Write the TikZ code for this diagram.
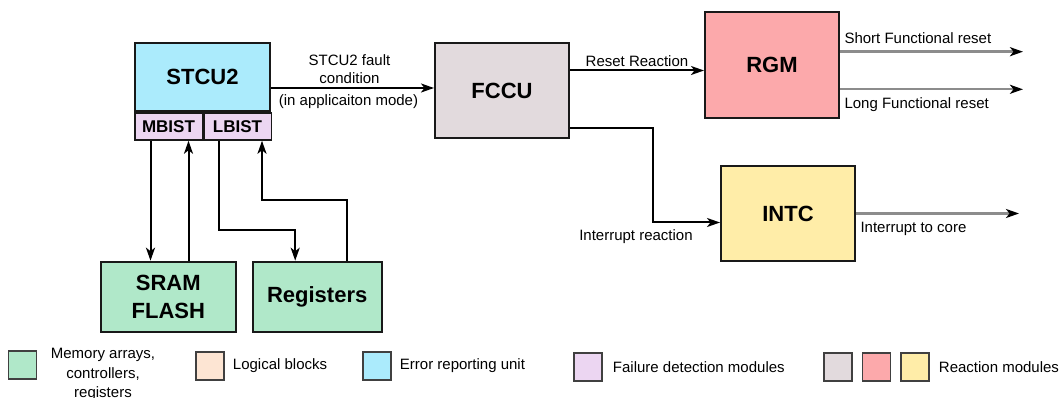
\documentclass[tikz,border=0pt]{standalone}
\usepackage{fontspec}
\setmainfont{Liberation Sans}
\usetikzlibrary{arrows.meta,positioning}

\definecolor{stcublue}{RGB}{171,235,252}
\definecolor{bistpink}{RGB}{236,214,242}
\definecolor{memgreen}{RGB}{176,232,201}
\definecolor{logicpeach}{RGB}{253,229,211}
\definecolor{fccugray}{RGB}{226,218,221}
\definecolor{rgmred}{RGB}{252,169,171}
\definecolor{intcyellow}{RGB}{255,237,168}

\begin{document}
\begin{tikzpicture}[x=1pt,y=-1pt,
		blk/.style={draw=black!90,line width=2pt,minimum width=134pt,minimum height=95pt,inner sep=0pt,align=center,font=\fontsize{22}{28}\selectfont\bfseries},
		sub/.style={draw=black!90,line width=1.5pt,fill=bistpink,minimum width=67.5pt,minimum height=27pt,inner sep=0pt,font=\fontsize{17}{20}\selectfont\bfseries},
		arr/.style={-{Stealth[length=13pt,width=9pt,inset=3.5pt]},line width=2pt},
		outarr/.style={-{Stealth[length=13pt,width=9pt,inset=3.5pt,black]},line width=2.4pt,draw=black!45},
		lbl/.style={font=\fontsize{15}{18}\selectfont},
		key/.style={draw=black!75,line width=1.5pt,minimum size=28pt,inner sep=0pt},
		keytxt/.style={font=\fontsize{15}{19.5}\selectfont,inner sep=0pt}]
		\useasboundingbox (0,0) rectangle (1063,398);

		\node[blk,fill=stcublue,minimum width=135pt,minimum height=68.5pt] (stcu) at (202.5,77) {STCU2};
		\node[sub,anchor=north west] (mbist) at (stcu.south west) {MBIST};
		\node[sub,anchor=north west] (lbist) at (mbist.north east) {LBIST};
		\node[blk,fill=fccugray,minimum height=95.6pt] (fccu) at (502,90.5) {FCCU};
		\node[blk,fill=rgmred,minimum height=106pt] (rgm) at (772,65.3) {RGM};
		\node[blk,fill=intcyellow] (intc) at (788,213.5) {INTC};
		\node[blk,fill=memgreen,minimum width=135pt,minimum height=70.6pt] (sram) at (168.3,297) {SRAM\\FLASH};
		\node[blk,fill=memgreen,minimum width=129pt,minimum height=70.6pt] (regs) at (317.2,297) {Registers};

		% fault and reaction paths
		\coordinate (flt) at ([yshift=2.5pt]fccu.west);
		\draw[arr] (stcu.east |- flt) -- (flt)
			node[midway,above,lbl,align=center,xshift=-3pt] {STCU2 fault\\condition}
			node[midway,below,lbl,xshift=-4pt,yshift=-2pt] {(in applicaiton mode)};
		\draw[arr] ([yshift=20pt]fccu.east) coordinate (rr) -- (rr -| rgm.west)
			node[midway,above,lbl] {Reset Reaction};
		\draw[arr] ([yshift=11pt]fccu.south east) -- ++(83,0) |- ([yshift=-9pt]intc.west)
			node[pos=0.5,below,lbl,xshift=-17pt,yshift=-3pt] {Interrupt reaction};

		\draw[outarr] ([yshift=13.6pt]rgm.east) -- ++(183,0)
			node[pos=0,above right,lbl,yshift=4pt] {Short Functional reset};
		\draw[outarr] ([yshift=-24pt]rgm.east) -- ++(183,0)
			node[pos=0,below right,lbl,yshift=-4pt] {Long Functional reset};
		\draw[outarr] (intc.east) -- ++(163,0)
			node[pos=0,below right,lbl,yshift=-4pt] {Interrupt to core};

		% BIST lanes down to the memories and registers
		\coordinate (m1) at ([xshift=-18pt]mbist.south);
		\coordinate (m2) at ([xshift=20pt]mbist.south);
		\coordinate (l1) at ([xshift=-18.5pt]lbist.south);
		\coordinate (l2) at ([xshift=24.5pt]lbist.south);
		\coordinate (r1) at ([xshift=-22pt]regs.north);
		\coordinate (r2) at ([xshift=30pt]regs.north);
		\draw[arr] (m1) -- (m1 |- sram.north);
		\draw[arr] (m2 |- sram.north) -- (m2);
		\draw[arr] (l1) -- ++(0,89) -| (r1);
		\draw[arr] (r2) -- ++(0,-61) -| (l2);

		% key
		\node[key,fill=memgreen] (k1) at (22.5,365) {};
		\node[keytxt,align=center,anchor=north] (t1) at (103,348) {Memory arrays,\\controllers,\\registers};
		\node[key,fill=logicpeach] (k2) at (210,366) {};
		\node[keytxt,right=8pt of k2] (t2) {Logical blocks};
		\node[key,fill=stcublue] (k3) at (377,366) {};
		\node[keytxt,right=8pt of k3] (t3) {Error reporting unit};
		\node[key,fill=bistpink] (k4) at (588,367) {};
		\node[keytxt,right=10pt of k4] (t4) {Failure detection modules};
		\node[key,fill=fccugray] (k5) at (838,367) {};
		\node[key,fill=rgmred,right=9pt of k5] (k6) {};
		\node[key,fill=intcyellow,right=9pt of k6] (k7) {};
		\node[keytxt,right=9pt of k7] (t5) {Reaction modules};
\end{tikzpicture}
\end{document}
